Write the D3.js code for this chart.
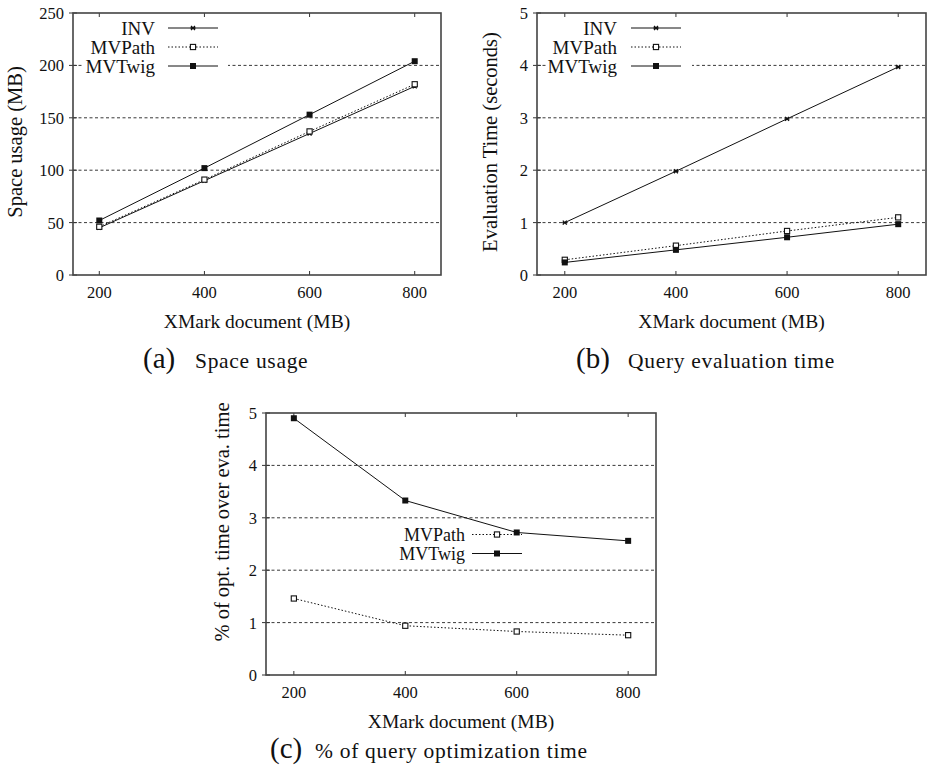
<!DOCTYPE html>
<html>
<head>
<meta charset="utf-8">
<script src="https://cdn.jsdelivr.net/npm/d3@7"></script>
<style>
  body { margin: 0; background: #fff; }
  svg { display: block; }
</style>
</head>
<body>
<svg id="fig" width="928" height="766"></svg>
<script>
// x values shared by all three panels
const docSizes = [200, 400, 600, 800];
const xTicks = [200, 400, 600, 800];

// (a) space usage, MB
const spaceINV = [45, 90, 135, 180];
const spaceMVPath = [46, 91, 137, 182];
const spaceMVTwig = [52, 102, 153, 204];
const spaceTicks = [0, 50, 100, 150, 200, 250];

// (b) evaluation time, seconds
const timeINV = [1.0, 1.98, 2.98, 3.97];
const timeMVPath = [0.29, 0.56, 0.84, 1.1];
const timeMVTwig = [0.24, 0.48, 0.72, 0.97];
const timeTicks = [0, 1, 2, 3, 4, 5];

// (c) % of optimization time over evaluation time
const optMVPath = [1.46, 0.94, 0.83, 0.76];
const optMVTwig = [4.9, 3.33, 2.72, 2.56];
const optTicks = [0, 1, 2, 3, 4, 5];

const FONT = "'Liberation Serif', 'Times New Roman', Times, serif";

const svg = d3.select('#fig')
  .attr('font-family', FONT)
  .style('font-family', FONT);

// line + marker styles per method
const styles = {
  INV: { dash: null, marker: 'star' },
  MVPath: { dash: '1.5,2', marker: 'open' },
  MVTwig: { dash: null, marker: 'filled' }
};

function txt(g) {
  return g.append('text').attr('font-family', FONT).attr('fill', '#111');
}

function drawMarker(g, kind, cx, cy) {
  if (kind == 'filled') {
    g.append('rect').attr('x', cx - 3).attr('y', cy - 3).attr('width', 6).attr('height', 6)
      .attr('fill', '#111');
  } else if (kind == 'open') {
    g.append('rect').attr('x', cx - 2.6).attr('y', cy - 2.6).attr('width', 5.2).attr('height', 5.2)
      .attr('fill', '#fff').attr('stroke', '#111').attr('stroke-width', 1.1);
  } else {
    g.append('path')
      .attr('d', `M${cx-2},${cy-2}L${cx+2},${cy+2}M${cx-2},${cy+2}L${cx+2},${cy-2}M${cx-2.5},${cy}L${cx+2.5},${cy}`)
      .attr('stroke', '#111').attr('stroke-width', 1.3);
  }
}

function drawPanel(p) {
  const g = svg.append('g');
  const x = d3.scaleLinear().domain([150, 850]).range([p.left, p.right]);
  const y = d3.scaleLinear().domain([p.yTicks[0], p.yTicks[p.yTicks.length - 1]]).range([p.bottom, p.top]);

  // dashed grid at interior ticks
  p.yTicks.slice(1, -1).forEach(t => {
    g.append('line')
      .attr('x1', p.left).attr('x2', p.right)
      .attr('y1', y(t)).attr('y2', y(t))
      .attr('stroke', '#222').attr('stroke-width', 0.9).attr('stroke-dasharray', '3,2.5');
  });

  // white patch behind legend (hides the grid line)
  if (p.legendBox) {
    g.append('rect')
      .attr('x', p.legendBox[0]).attr('y', p.legendBox[1])
      .attr('width', p.legendBox[2]).attr('height', p.legendBox[3])
      .attr('fill', '#fff');
  }

  // y ticks + labels
  p.yTicks.forEach(t => {
    g.append('line').attr('x1', p.left - 4).attr('x2', p.left + 4)
      .attr('y1', y(t)).attr('y2', y(t)).attr('stroke', '#333');
    txt(g).attr('x', p.left - 9).attr('y', y(t)).attr('dy', '0.36em')
      .attr('text-anchor', 'end').attr('font-size', 16.5).text(t);
  });

  // x ticks + labels
  xTicks.forEach(t => {
    g.append('line').attr('x1', x(t)).attr('x2', x(t))
      .attr('y1', p.bottom).attr('y2', p.bottom - 4).attr('stroke', '#333');
    g.append('line').attr('x1', x(t)).attr('x2', x(t))
      .attr('y1', p.top).attr('y2', p.top + 4).attr('stroke', '#333');
    txt(g).attr('x', x(t)).attr('y', p.bottom + 23)
      .attr('text-anchor', 'middle').attr('font-size', 16.5).text(t);
  });

  // series
  const line = d3.line().x((d, i) => x(docSizes[i])).y(d => y(d));
  p.series.forEach(s => {
    const st = styles[s.name];
    g.append('path').datum(s.values)
      .attr('d', line)
      .attr('fill', 'none').attr('stroke', '#111').attr('stroke-width', 1)
      .attr('stroke-dasharray', st.dash);
    s.values.forEach((v, i) => drawMarker(g, st.marker, x(docSizes[i]), y(v)));
  });

  // legend
  p.series.forEach((s, i) => {
    const st = styles[s.name];
    const ly = p.legend.y + i * p.legend.step;
    txt(g).attr('x', p.legend.x).attr('y', ly).attr('dy', '0.35em')
      .attr('text-anchor', 'end').attr('font-size', p.legend.size).text(s.name);
    g.append('line').attr('x1', p.legend.x + p.legend.gap).attr('x2', p.legend.x + p.legend.gap + 50)
      .attr('y1', ly).attr('y2', ly)
      .attr('stroke', '#111').attr('stroke-width', 1).attr('stroke-dasharray', st.dash);
    drawMarker(g, st.marker, p.legend.x + p.legend.gap + 25, ly);
  });

  // frame
  g.append('rect')
    .attr('x', p.left).attr('y', p.top)
    .attr('width', p.right - p.left).attr('height', p.bottom - p.top)
    .attr('fill', 'none').attr('stroke', '#444').attr('stroke-width', 1.6);

  // axis titles
  txt(g).attr('x', (p.left + p.right) / 2).attr('y', p.bottom + 53)
    .attr('text-anchor', 'middle').attr('font-size', 19.5).text('XMark document (MB)');
  txt(g)
    .attr('transform', `translate(${p.yLabelX},${p.yLabelY}) rotate(-90)`)
    .attr('text-anchor', 'middle').attr('font-size', 20.5).text(p.yLabel);

  // caption
  const cap = txt(g).attr('y', p.caption.y);
  cap.append('tspan').attr('x', p.caption.x).attr('font-size', 29).text(p.caption.tag);
  cap.append('tspan').attr('x', p.caption.x2).attr('font-size', 21.5)
    .attr('letter-spacing', 0.7).text(p.caption.text);
}

drawPanel({
  left: 73, right: 441, top: 13, bottom: 275,
  yTicks: spaceTicks,
  series: [
    { name: 'INV', values: spaceINV },
    { name: 'MVPath', values: spaceMVPath },
    { name: 'MVTwig', values: spaceMVTwig }
  ],
  legend: { x: 155, y: 28, step: 19, gap: 13, size: 19 },
  legendBox: [82, 17, 146, 60],
  yLabel: 'Space usage (MB)', yLabelX: 22, yLabelY: 142,
  caption: { x: 143, x2: 195, y: 368, tag: '(a)', text: 'Space usage' }
});

drawPanel({
  left: 537, right: 926, top: 13, bottom: 275,
  yTicks: timeTicks,
  series: [
    { name: 'INV', values: timeINV },
    { name: 'MVPath', values: timeMVPath },
    { name: 'MVTwig', values: timeMVTwig }
  ],
  legend: { x: 617, y: 28, step: 19, gap: 14, size: 19 },
  legendBox: [547, 17, 145, 60],
  yLabel: 'Evaluation Time (seconds)', yLabelX: 497, yLabelY: 142,
  caption: { x: 576, x2: 628, y: 368, tag: '(b)', text: 'Query evaluation time' }
});

drawPanel({
  left: 266, right: 656, top: 413, bottom: 675,
  yTicks: optTicks,
  series: [
    { name: 'MVPath', values: optMVPath },
    { name: 'MVTwig', values: optMVTwig }
  ],
  legend: { x: 465, y: 534.5, step: 19, gap: 7, size: 18 },
  legendBox: null,
  yLabel: '% of opt. time over eva. time', yLabelX: 229, yLabelY: 522,
  caption: { x: 270, x2: 315, y: 758, tag: '(c)', text: '% of query optimization time' }
});
</script>
</body>
</html>
